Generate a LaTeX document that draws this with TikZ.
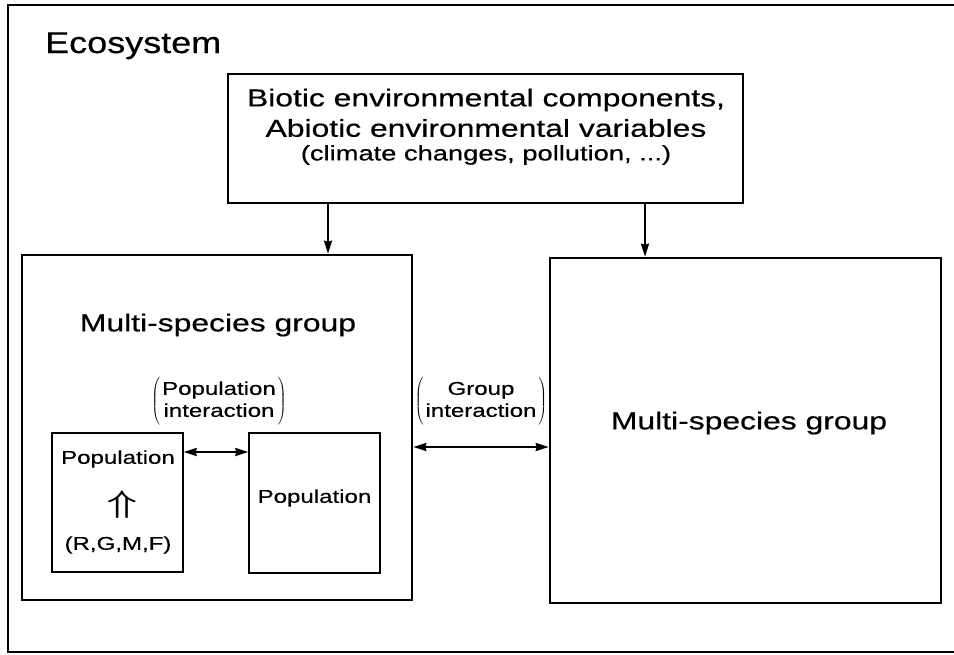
\documentclass[tikz,border=0pt]{standalone}
\usepackage{fontspec}
\setmainfont{Liberation Sans}[FakeStretch=1.3,FakeBold=0.5]
\newfontfamily\titlefont{Liberation Sans}[FakeStretch=1.2,FakeBold=0.5]
\usetikzlibrary{arrows.meta}
\newcommand{\tallparen}[1]{$\left(\vcenter{\hbox{\begin{tabular}{@{\hspace{2pt}}c@{\hspace{2pt}}}#1\end{tabular}}}\vrule height 20pt depth 20pt width 0pt\right)$}
\begin{document}
\begin{tikzpicture}[x=1pt,y=-1pt,
  box/.style={draw,line width=2.6pt,rectangle,inner sep=0pt},
  popbox/.style={draw,line width=1.5pt,rectangle,inner sep=0pt,minimum width=131pt,minimum height=139pt},
  tip/.tip={Stealth[length=13pt,width=8pt,inset=1pt]},
  link/.style={line width=2pt,-tip},
  both/.style={line width=2pt,tip-tip},
  txt/.style={inner sep=0pt},
  small/.style={txt,font=\fontsize{18.5}{25}\selectfont},
  big/.style={txt,font=\fontsize{24.5}{28}\selectfont}]
\useasboundingbox (0,0) rectangle (954,654);
% outer ecosystem frame (right side runs off the page)
\draw[line width=2.8pt] (960,5) -- (8,5) -- (8,652) -- (960,652);
\node[txt,anchor=base west,font=\titlefont\fontsize{30}{32}\selectfont] (eco) at (45,53) {Ecosystem};

% environment box
\node[box,line width=2.2pt,minimum width=515pt,minimum height=129pt] (env) at (485.5,138.5) {};
\node[big] (env1) at (486,100) {Biotic environmental components,};
\node[big] (env2) at (486,128) {Abiotic environmental variables};
\node[txt,font=\fontsize{21}{24}\selectfont] (env3) at (486,155) {(climate changes, pollution, ...)};

% two multi-species groups
\node[box,minimum width=390pt,minimum height=345pt] (g1) at (217,427.5) {};
\node[box,minimum width=391pt,minimum height=345pt] (g2) at (745.5,430.5) {};
\node[big] (g1t) at (218,325) {Multi-species group};
\node[big] (g2t) at (749,423) {Multi-species group};

% populations
\node[popbox] (p1) at (117.5,502.5) {};
\node[popbox,minimum height=140pt] (p2) at (314.5,503) {};
\node[small] (p1t) at (118,459) {Population};
\node[txt,font=\fontsize{24}{24}\selectfont] (p1a) at (122,505) {\scalebox{1.7}[1.25]{\boldmath$\Uparrow$}};
\node[small] (p1r) at (118,545) {(R,G,M,F)};
\node[small] (p2t) at (314.5,498) {Population};

% interaction labels in tall brackets
\node[small] (pint) at (219,401) {\tallparen{Population\\[-3pt]interaction}};
\node[small] (gint) at (481,401) {\tallparen{Group\\[-3pt]interaction}};

% connectors
\draw[link] (env.south -| 328,0) -- (g1.north -| 328,0);
\draw[link] (env.south -| 645,0) -- (g2.north -| 645,0);
\draw[both] (p1.east |- 0,452) -- (p2.west |- 0,452);
\draw[both] (g1.east |- 0,447) -- (g2.west |- 0,447);
\end{tikzpicture}
\end{document}
